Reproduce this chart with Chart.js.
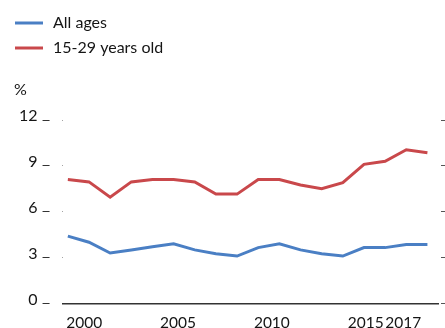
<!DOCTYPE html>
<html>
<head>
<meta charset="utf-8">
<script src="https://cdn.jsdelivr.net/npm/chart.js@4"></script>
<style>
  html, body { margin: 0; padding: 0; background: #fff; }
</style>
</head>
<body>
<canvas id="lineChart" width="445" height="328"></canvas>
<script>
const years = [2000, 2001, 2002, 2003, 2004, 2005, 2006, 2007, 2008, 2009,
  2010, 2011, 2012, 2013, 2014, 2015, 2016, 2017];
const allAges = [4.4, 4.0, 3.3, 3.5, 3.7, 3.9, 3.5, 3.25, 3.1, 3.65,
  3.9, 3.5, 3.25, 3.1, 3.65, 3.65, 3.85, 3.85];
const youth = [8.1, 7.95, 6.95, 7.95, 8.1, 8.1, 7.95, 7.15, 7.15, 8.1,
  8.1, 7.75, 7.5, 7.9, 9.1, 9.3, 10.05, 9.85];
const xTickYears = [2000, 2005, 2010, 2015, 2017];
const yTicks = [0, 3, 6, 9, 12];

const FONT = 'Lato, "Noto Sans", sans-serif';
const TEXT = '#151515';

// legend + unit label drawn on the canvas (vertical list like the original)
const sideText = {
  id: 'sideText',
  afterDraw(chart) {
    const ctx = chart.ctx;
    ctx.save();
    ctx.font = '16px ' + FONT;
    ctx.fillStyle = TEXT;
    ctx.textBaseline = 'middle';
    chart.data.datasets.forEach((ds, i) => {
      const y = 23 + i * 25;
      ctx.strokeStyle = ds.borderColor;
      ctx.lineWidth = 3;
      ctx.beginPath();
      ctx.moveTo(15, y);
      ctx.lineTo(43, y);
      ctx.stroke();
      ctx.fillText(ds.label, 53, y);
    });
    ctx.fillText('%', 14, 90);
    ctx.restore();
  }
};

new Chart(document.getElementById('lineChart'), {
  type: 'line',
  data: {
    datasets: [
      {
        label: 'All ages',
        data: years.map((yr, i) => ({ x: yr, y: allAges[i] })),
        borderColor: '#4a7fc4',
        borderWidth: 3,
        pointRadius: 0,
        tension: 0,
      },
      {
        label: '15-29 years old',
        data: years.map((yr, i) => ({ x: yr, y: youth[i] })),
        borderColor: '#c9484b',
        borderWidth: 3,
        pointRadius: 0,
        tension: 0,
      },
    ],
  },
  options: {
    responsive: false,
    animation: false,
    layout: { padding: { top: 120, left: 14, right: 0, bottom: -14 } },
    plugins: {
      legend: { display: false },
      tooltip: { enabled: false },
    },
    scales: {
      // scale the data is plotted on
      x: {
        type: 'linear',
        display: false,
        min: 1999.75,
        max: 2017.5,
      },
      // year labels, spaced as in the source figure
      xLabel: {
        type: 'linear',
        position: 'bottom',
        min: 1998.85,
        max: 2018.85,
        afterBuildTicks: (scale) => {
          scale.ticks = xTickYears.map((v) => ({ value: v }));
        },
        grid: { display: false, drawTicks: false },
        border: { display: true, color: '#333', width: 1.5 },
        ticks: {
          autoSkip: false,
          maxRotation: 0,
          padding: 10,
          color: TEXT,
          font: { family: FONT, size: 15.5 },
          callback: (v) => String(v),
        },
      },
      y: {
        min: 0,
        max: 12,
        afterBuildTicks: (scale) => {
          scale.ticks = yTicks.map((v) => ({ value: v }));
        },
        border: { display: false },
        grid: {
          drawOnChartArea: false,
          tickLength: 20,
          tickColor: '#333',
          tickWidth: 1,
          tickBorderDash: [7, 13],
        },
        ticks: {
          padding: 5,
          labelOffset: -4,
          color: TEXT,
          font: { family: FONT, size: 16 },
        },
      },
      yRight: {
        position: 'right',
        min: 0,
        max: 12,
        afterBuildTicks: (scale) => {
          scale.ticks = yTicks.map((v) => ({ value: v }));
        },
        border: { display: false },
        grid: {
          drawOnChartArea: false,
          tickLength: 7,
          tickColor: '#555',
          tickWidth: 1,
          tickBorderDash: [4, 3],
          tickBorderDashOffset: 4,
        },
        ticks: { display: false },
      },
    },
  },
  plugins: [sideText],
});
</script>
</body>
</html>
